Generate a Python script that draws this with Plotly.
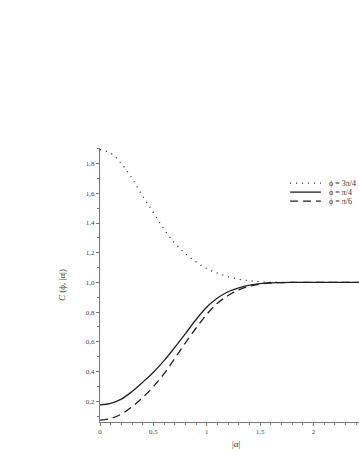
import plotly.graph_objects as go

alpha = [0.0, 0.1, 0.2, 0.3, 0.4, 0.5, 0.6, 0.7, 0.8, 0.9, 1.0, 1.1, 1.2, 1.3,
         1.4, 1.5, 1.6, 1.7, 1.8, 1.9, 2.0, 2.1, 2.2, 2.3, 2.4, 2.5]
c_3pi4 = [1.894, 1.87, 1.80, 1.70, 1.58, 1.47, 1.357, 1.265, 1.192, 1.138, 1.093,
          1.062, 1.038, 1.021, 1.011, 1.005, 1.002, 1.0005, 1.0, 1.0, 1.0, 1.0,
          1.0, 1.0, 1.0, 1.0]
c_pi4 = [0.175, 0.186, 0.214, 0.265, 0.328, 0.395, 0.473, 0.562, 0.655, 0.75, 0.834,
         0.895, 0.937, 0.963, 0.981, 0.992, 0.997, 0.999, 1.0, 1.0, 1.0, 1.0,
         1.0, 1.0, 1.0, 1.0]
c_pi6 = [0.072, 0.084, 0.113, 0.163, 0.225, 0.298, 0.385, 0.488, 0.593, 0.693, 0.785,
         0.86, 0.912, 0.95, 0.975, 0.989, 0.996, 0.999, 1.0, 1.0, 1.0, 1.0,
         1.0, 1.0, 1.0, 1.0]
names = ["ϕ = 3π/4", "ϕ = π/4", "ϕ = π/6"]
x_ticks = [0, 0.5, 1, 1.5, 2]
x_ticklabels = ["0", "0,5", "1", "1,5", "2"]
y_ticks = [0.2, 0.4, 0.6, 0.8, 1.0, 1.2, 1.4, 1.6, 1.8]
y_ticklabels = ["0,2", "0,4", "0,6", "0,8", "1,0", "1,2", "1,4", "1,6", "1,8"]

LINE = "#222222"
FONT = "Liberation Serif"
dashes = ["1px,5px", "solid", "8px,5px"]

fig = go.Figure()
for ys, nm, d in zip([c_3pi4, c_pi4, c_pi6], names, dashes):
    fig.add_trace(go.Scatter(x=alpha, y=ys, mode="lines", name=nm,
                             line=dict(color=LINE, width=1.3, dash=d, shape="spline",
                                       smoothing=1.0),
                             showlegend=False))

# manual legend (drawn in paper coordinates)
leg_y = [0.872, 0.839, 0.806]
for nm, d, yy in zip(names, dashes, leg_y):
    fig.add_shape(type="line", xref="paper", yref="paper", x0=0.734, x1=0.853,
                  y0=yy, y1=yy, line=dict(color=LINE, width=1.3, dash=d))
    fig.add_annotation(xref="paper", yref="paper", x=0.876, y=yy, text=nm,
                       showarrow=False, xanchor="left", yanchor="middle",
                       font=dict(family=FONT, size=8, color="#333333"))

fig.add_annotation(xref="x", yref="paper", x=1.276, y=-0.08, text="|α|",
                   showarrow=False, xanchor="center", yanchor="middle",
                   font=dict(family=FONT, size=9, color="#333333"))

axis_common = dict(showline=True, linecolor="#777777", linewidth=1, ticks="outside",
                   ticklen=3, tickcolor="#777777", showgrid=False, zeroline=False,
                   tickfont=dict(family=FONT, size=7, color="#444444"))

fig.update_layout(
    width=359, height=465,
    margin=dict(l=100, r=0, t=148, b=43, autoexpand=False),
    paper_bgcolor="white", plot_bgcolor="white",
    xaxis=dict(range=[0, 2.425], tickvals=x_ticks, ticktext=x_ticklabels,
               minor=dict(dtick=0.1, ticks="outside", ticklen=2, tickcolor="#777777"),
               **axis_common),
    yaxis=dict(range=[0.06, 1.905], tickvals=y_ticks, ticktext=y_ticklabels,
               minor=dict(dtick=0.1, ticks="outside", ticklen=2, tickcolor="#777777"),
               title=dict(text="<i>C</i> (ϕ, |α|)", standoff=18,
                          font=dict(family=FONT, size=9, color="#333333")),
               **axis_common),
)

fig.write_html("out.html",
               config={"displayModeBar": False},
               post_script="document.body.style.margin='0';"
                           "document.body.style.overflow='hidden';")
